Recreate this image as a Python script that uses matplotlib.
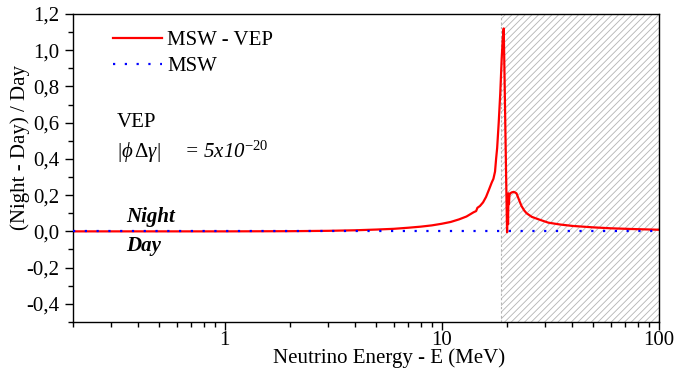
import matplotlib.pyplot as plt
from matplotlib.ticker import FixedLocator, MultipleLocator, FuncFormatter, LogLocator, NullFormatter

plt.rcParams['font.family'] = 'Liberation Serif'
plt.rcParams['mathtext.fontset'] = 'custom'
plt.rcParams['mathtext.rm'] = 'Liberation Serif'
plt.rcParams['mathtext.it'] = 'Liberation Serif:italic'
plt.rcParams['mathtext.default'] = 'it'
plt.rcParams['hatch.linewidth'] = 0.6

# energia (MeV) e razao (N-D)/D
energia = [0.2, 0.5, 1.0, 2.0, 3.0, 4.0, 5.0, 6.0, 7.0, 8.0, 9.0, 10.0, 11.0, 12.0,
           13.0, 14.0, 14.4, 14.6, 15.0, 15.5, 16.0, 16.5, 17.0, 17.3, 17.6, 17.8,
           18.0, 18.3, 18.6, 18.9, 19.1, 19.3, 19.5, 19.8, 20.0, 20.1, 20.2, 20.3,
           20.4, 20.5, 20.7, 21.0, 21.5, 22.1, 22.6, 23.3, 24.0, 24.6, 26.0, 28.3,
           31.0, 35.0, 40.0, 50.0, 60.0, 75.0, 100.0]
msw_vep = [0.0, 0.0, 0.0, 0.001, 0.003, 0.006, 0.010, 0.014, 0.020, 0.026, 0.033, 0.042,
           0.052, 0.066, 0.082, 0.105, 0.112, 0.130, 0.140, 0.160, 0.190, 0.230, 0.270,
           0.290, 0.330, 0.400, 0.460, 0.600, 0.760, 0.960, 1.060, 1.120, 0.800, 0.300,
           -0.005, 0.200, 0.040, 0.210, 0.150, 0.200, 0.210, 0.215, 0.218, 0.210, 0.180,
           0.140, 0.115, 0.100, 0.080, 0.064, 0.048, 0.038, 0.030, 0.022, 0.017, 0.013, 0.009]

energia_msw = [0.2, 100.0]
msw = [0.0, 0.0]

inicio_regiao = 18.7

fig = plt.figure(figsize=(6.92, 3.77), dpi=100)
ax = fig.add_axes([0.1055, 0.146, 0.8465, 0.817])

ax.axvspan(inicio_regiao, 100, facecolor='none', edgecolor='#b4b4b4', hatch='/////',
           linewidth=0, zorder=0)
ax.axvline(inicio_regiao, color='#b4b4b4', linestyle=(0, (2, 2)), linewidth=0.8, zorder=0)

ax.plot(energia, msw_vep, color='#ff0000', linewidth=1.6, label='MSW - VEP', zorder=2)
ax.plot(energia_msw, msw, color='#0000ff', linestyle=(0, (1, 4.3)), linewidth=1.6,
        label='MSW', zorder=3)

ax.set_xscale('log')
ax.set_xlim(0.2, 100)
ax.set_ylim(-0.5, 1.2)

ax.xaxis.set_major_locator(FixedLocator([1, 10, 100]))
ax.xaxis.set_major_formatter(FuncFormatter(lambda v, p: f'{v:g}'))
ax.xaxis.set_minor_locator(LogLocator(base=10, subs=range(2, 10)))
ax.xaxis.set_minor_formatter(NullFormatter())

ax.yaxis.set_major_locator(FixedLocator([-0.4, -0.2, 0.0, 0.2, 0.4, 0.6, 0.8, 1.0, 1.2]))
ax.yaxis.set_minor_locator(MultipleLocator(0.1))
ax.yaxis.set_major_formatter(FuncFormatter(lambda v, p: f'{v:.1f}'.replace('.', ',').replace('-0,0', '0,0')))

ax.tick_params(which='both', direction='out', labelsize=15, top=False, right=False)
ax.tick_params(which='major', length=5.8, width=1)
ax.tick_params(which='minor', length=3.5, width=1)
ax.tick_params(axis='x', which='major', pad=1.0)
ax.tick_params(axis='y', which='major', pad=4)
for s in ax.spines.values():
    s.set_linewidth(1)

ax.set_xlabel('Neutrino Energy - E (MeV)', fontsize=15)
ax.set_ylabel('(Night - Day) / Day', fontsize=15)
ax.xaxis.set_label_coords(0.54, -0.086)
ax.yaxis.set_label_coords(-0.073, 0.565)

ax.legend(loc='center left', bbox_to_anchor=(0.068, 0.872), frameon=False, fontsize=15,
          handlelength=2.35, handletextpad=0.26, labelspacing=0.28, borderaxespad=0,
          borderpad=0)

ax.text(0.075, 0.649, 'VEP', transform=ax.transAxes, fontsize=15, va='center')
ax.text(0.075, 0.552, r'$|\phi\,\Delta\gamma|$', transform=ax.transAxes, fontsize=15,
        va='center')
ax.text(0.19, 0.552, '= 5x10$^{-20}$', transform=ax.transAxes, fontsize=15,
        fontstyle='italic', va='center')
ax.text(0.09, 0.341, 'Night', transform=ax.transAxes, fontsize=15, fontweight='bold',
        fontstyle='italic', va='center')
ax.text(0.09, 0.248, 'Day', transform=ax.transAxes, fontsize=15, fontweight='bold',
        fontstyle='italic', va='center')

fig.savefig('out.png', dpi=100)
plt.close()
